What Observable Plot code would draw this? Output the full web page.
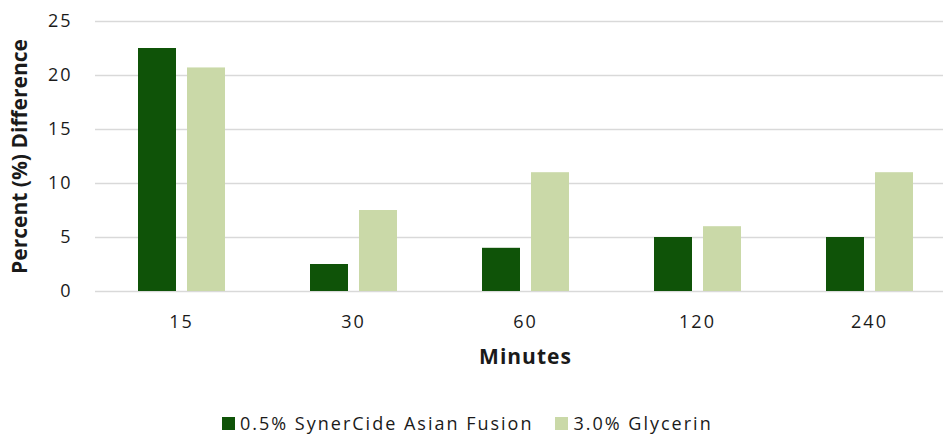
<!DOCTYPE html>
<html>
<head>
<meta charset="utf-8">
<script src="https://cdn.jsdelivr.net/npm/d3@7"></script>
<script src="https://cdn.jsdelivr.net/npm/@observablehq/plot@0.6"></script>
<style>
  html, body { margin: 0; padding: 0; background: #fff; overflow: hidden; }
  body { width: 943px; height: 437px; font-family: "Open Sans", sans-serif; }
  #legend { display: flex; align-items: center; margin-left: 222px; margin-top: 31px; font-size: 18px; letter-spacing: 2px; color: #1a1a1a; }
  #legend .item { display: flex; align-items: center; margin-right: 22px; }
  #legend .sw { width: 13px; height: 13px; margin-right: 5px; }
</style>
</head>
<body>
<div id="chart"></div>
<div id="legend"></div>
<script>
const minutes = ["15", "30", "60", "120", "240"];
const seriesNames = ["0.5% SynerCide Asian Fusion", "3.0% Glycerin"];
const synercide = [22.5, 2.5, 4, 5, 5];
const glycerin = [20.7, 7.5, 11, 6, 11];
const colors = ["#0f5308", "#cad9a8"];
const yTicks = [0, 5, 10, 15, 20, 25];
const yTitle = "Percent (%) Difference";
const xTitle = "Minutes";

const rows = [];
minutes.forEach((m, i) => {
  rows.push({minute: m, series: seriesNames[0], value: synercide[i]});
  rows.push({minute: m, series: seriesNames[1], value: glycerin[i]});
});

const chart = Plot.plot({
  width: 943,
  height: 380,
  marginTop: 21,
  marginBottom: 89,
  marginLeft: 95,
  marginRight: -12,
  style: {fontFamily: "'Open Sans', sans-serif", fontSize: "18px", color: "#1a1a1a", overflow: "hidden"},
  fx: {domain: minutes, padding: 0, axis: "bottom", tickSize: 0, tickPadding: 24, label: null},
  x: {domain: seriesNames, paddingInner: 0.2245, paddingOuter: 0.867, axis: null},
  y: {domain: [0, 25], ticks: yTicks, tickSize: 0, tickPadding: 23, label: null},
  color: {domain: seriesNames, range: colors},
  marks: [
    Plot.gridY(yTicks, {stroke: "#d9d9d9", strokeOpacity: 1, strokeWidth: 1.5}),
    Plot.barY(rows, {fx: "minute", x: "series", y: "value", fill: "series"}),
    // y title sits in the first facet, x title in the middle one (the frame's centre)
    Plot.text([yTitle], {fx: () => minutes[0], text: d => d, frameAnchor: "left", textAnchor: "middle", lineAnchor: "middle", rotate: -90, dx: -75, fontWeight: "bold", fontSize: 21}),
    Plot.text([xTitle], {fx: () => minutes[2], text: d => d, frameAnchor: "bottom", textAnchor: "middle", lineAnchor: "middle", dy: 66, fontWeight: "bold", fontSize: 21})
  ]
});
document.getElementById("chart").appendChild(chart);
d3.select(chart).selectAll("text").style("letter-spacing", function() {
  if (this.textContent === yTitle) return "0px";
  if (this.textContent === xTitle) return "1px";
  return "2px";
});

const legend = document.getElementById("legend");
seriesNames.forEach((name, i) => {
  const item = document.createElement("div");
  item.className = "item";
  const sw = document.createElement("div");
  sw.className = "sw";
  sw.style.background = colors[i];
  const label = document.createElement("span");
  label.textContent = name;
  item.appendChild(sw);
  item.appendChild(label);
  legend.appendChild(item);
});
</script>
</body>
</html>
